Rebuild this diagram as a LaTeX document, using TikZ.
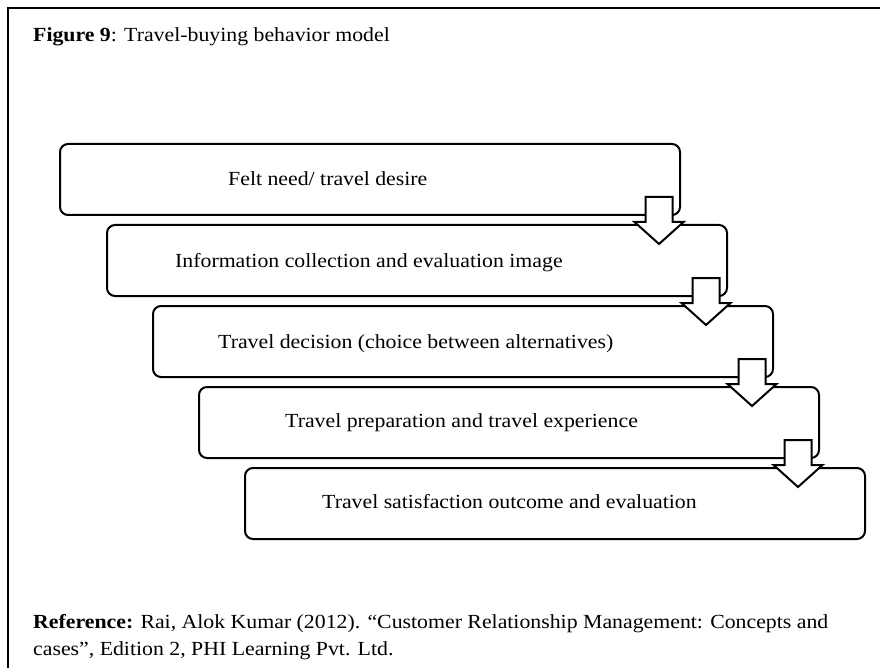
\documentclass[tikz,border=0pt]{standalone}
\usepackage{fontspec}
\setmainfont{Liberation Serif}
\usetikzlibrary{calc}
\newcommand{\widetext}[1]{\scalebox{1.09}[1]{#1}}
\begin{document}
\begin{tikzpicture}[x=1pt,y=-1pt,
  stage/.style={draw, line width=2pt, rounded corners=8pt, minimum width=620pt, minimum height=71pt, inner sep=0pt, anchor=north west},
  lbl/.style={anchor=base west, inner sep=0pt, font=\fontsize{20}{24}\selectfont},
  blockarrow/.style={draw, fill=white, line width=2pt, line join=miter}]
\useasboundingbox (0,0) rectangle (880,668);
\clip (0,0) rectangle (880,668);
\draw[line width=2pt] (8,700) -- (8,8) -- (900,8);

\node[lbl] (title) at (33,42) {\widetext{\textbf{Figure 9}: Travel-buying behavior model}};

\node[stage] (b1) at (59,143) {};
\node[stage] (b2) at (106,224) {};
\node[stage] (b3) at (152,305) {};
\node[stage] (b4) at (198,386) {};
\node[stage] (b5) at (244,467) {};

\node[lbl] (t1) at (228,186) {\widetext{Felt need/ travel desire}};
\node[lbl] (t2) at (175,267) {\widetext{Information collection and evaluation image}};
\node[lbl] (t3) at (218,348) {\widetext{Travel decision (choice between alternatives)}};
\node[lbl] (t4) at (285,427) {\widetext{Travel preparation and travel experience}};
\node[lbl] (t5) at (322,508) {\widetext{Travel satisfaction outcome and evaluation}};

\foreach \a in {b1,b2,b3,b4}{
  \coordinate (c) at ($(\a.south east)+(-22,0)$);
  \draw[blockarrow] ($(c)+(-13.5,-19)$) -- ($(c)+(-13.5,6)$) -- ($(c)+(-24.5,6)$)
    -- ($(c)+(0,28)$) -- ($(c)+(24.5,6)$) -- ($(c)+(13.5,6)$) -- ($(c)+(13.5,-19)$) -- cycle;
}

\node[lbl] (ref1) at (33,628) {\widetext{\textbf{Reference:} Rai, Alok Kumar (2012). “Customer Relationship Management: Concepts and}};
\node[lbl] (ref2) at (33,655) {\widetext{cases”, Edition 2, PHI Learning Pvt. Ltd.}};
\end{tikzpicture}
\end{document}
